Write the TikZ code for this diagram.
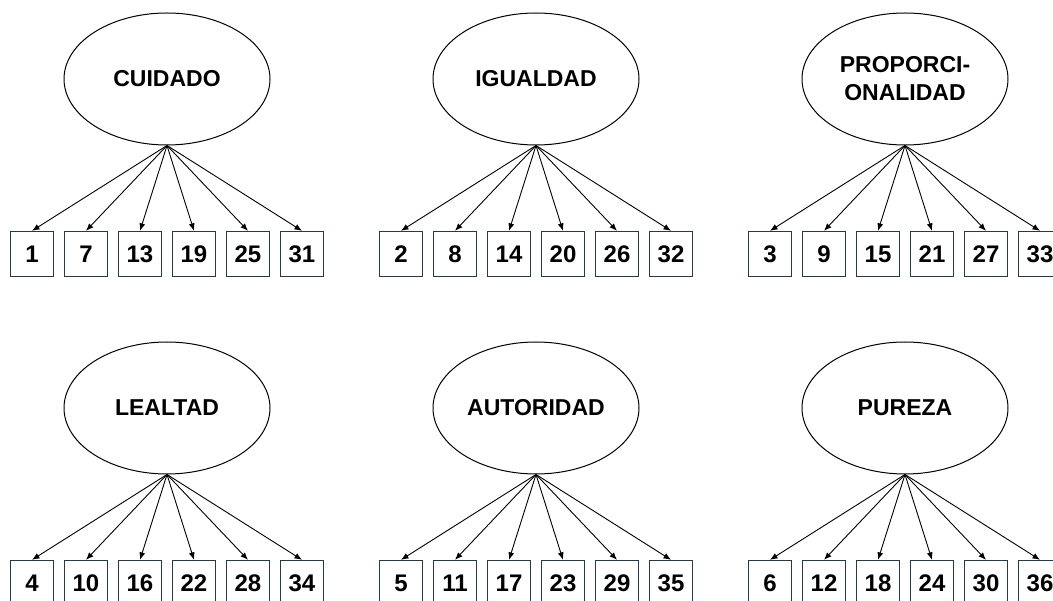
\documentclass[tikz,border=0pt]{standalone}
\usepackage{fontspec}
\setmainfont{Liberation Sans}
\usetikzlibrary{shapes.geometric,arrows.meta}
\definecolor{boxline}{RGB}{38,58,70}
\tikzset{
  latent/.style={draw=black, line width=1pt, ellipse, minimum width=206pt, minimum height=132pt, inner sep=0pt, align=center, font=\fontsize{23}{28}\selectfont\bfseries},
  itembox/.style={draw=boxline, line width=1.3pt, rectangle, minimum width=43pt, minimum height=45pt, inner sep=0pt, font=\fontsize{24}{28}\selectfont\bfseries},
  arr/.style={line width=0.9pt, -{Latex[length=7.5pt,width=6pt]}}
}
\begin{document}
\begin{tikzpicture}[x=1pt,y=-1pt]
\useasboundingbox (0,0) rectangle (1053,601);
\foreach \g/\cx/\cy/\lab in {1/167/79/CUIDADO, 2/536/79/IGUALDAD, 3/905/79/{PROPORCI-\\ONALIDAD}, 4/167/408/LEALTAD, 5/536/408/AUTORIDAD, 6/905/408/PUREZA}{
  \node[latent] (f\g) at (\cx,\cy) {\lab};
  \foreach \k in {0,...,5}{
    \pgfmathtruncatemacro\n{\g+6*\k}
    \node[itembox] (b\n) at ({\cx-135+54*\k},{\cy+175}) {\n};
    \draw[arr] (f\g.south) -- (b\n.north);
  }
}
\end{tikzpicture}
\end{document}
